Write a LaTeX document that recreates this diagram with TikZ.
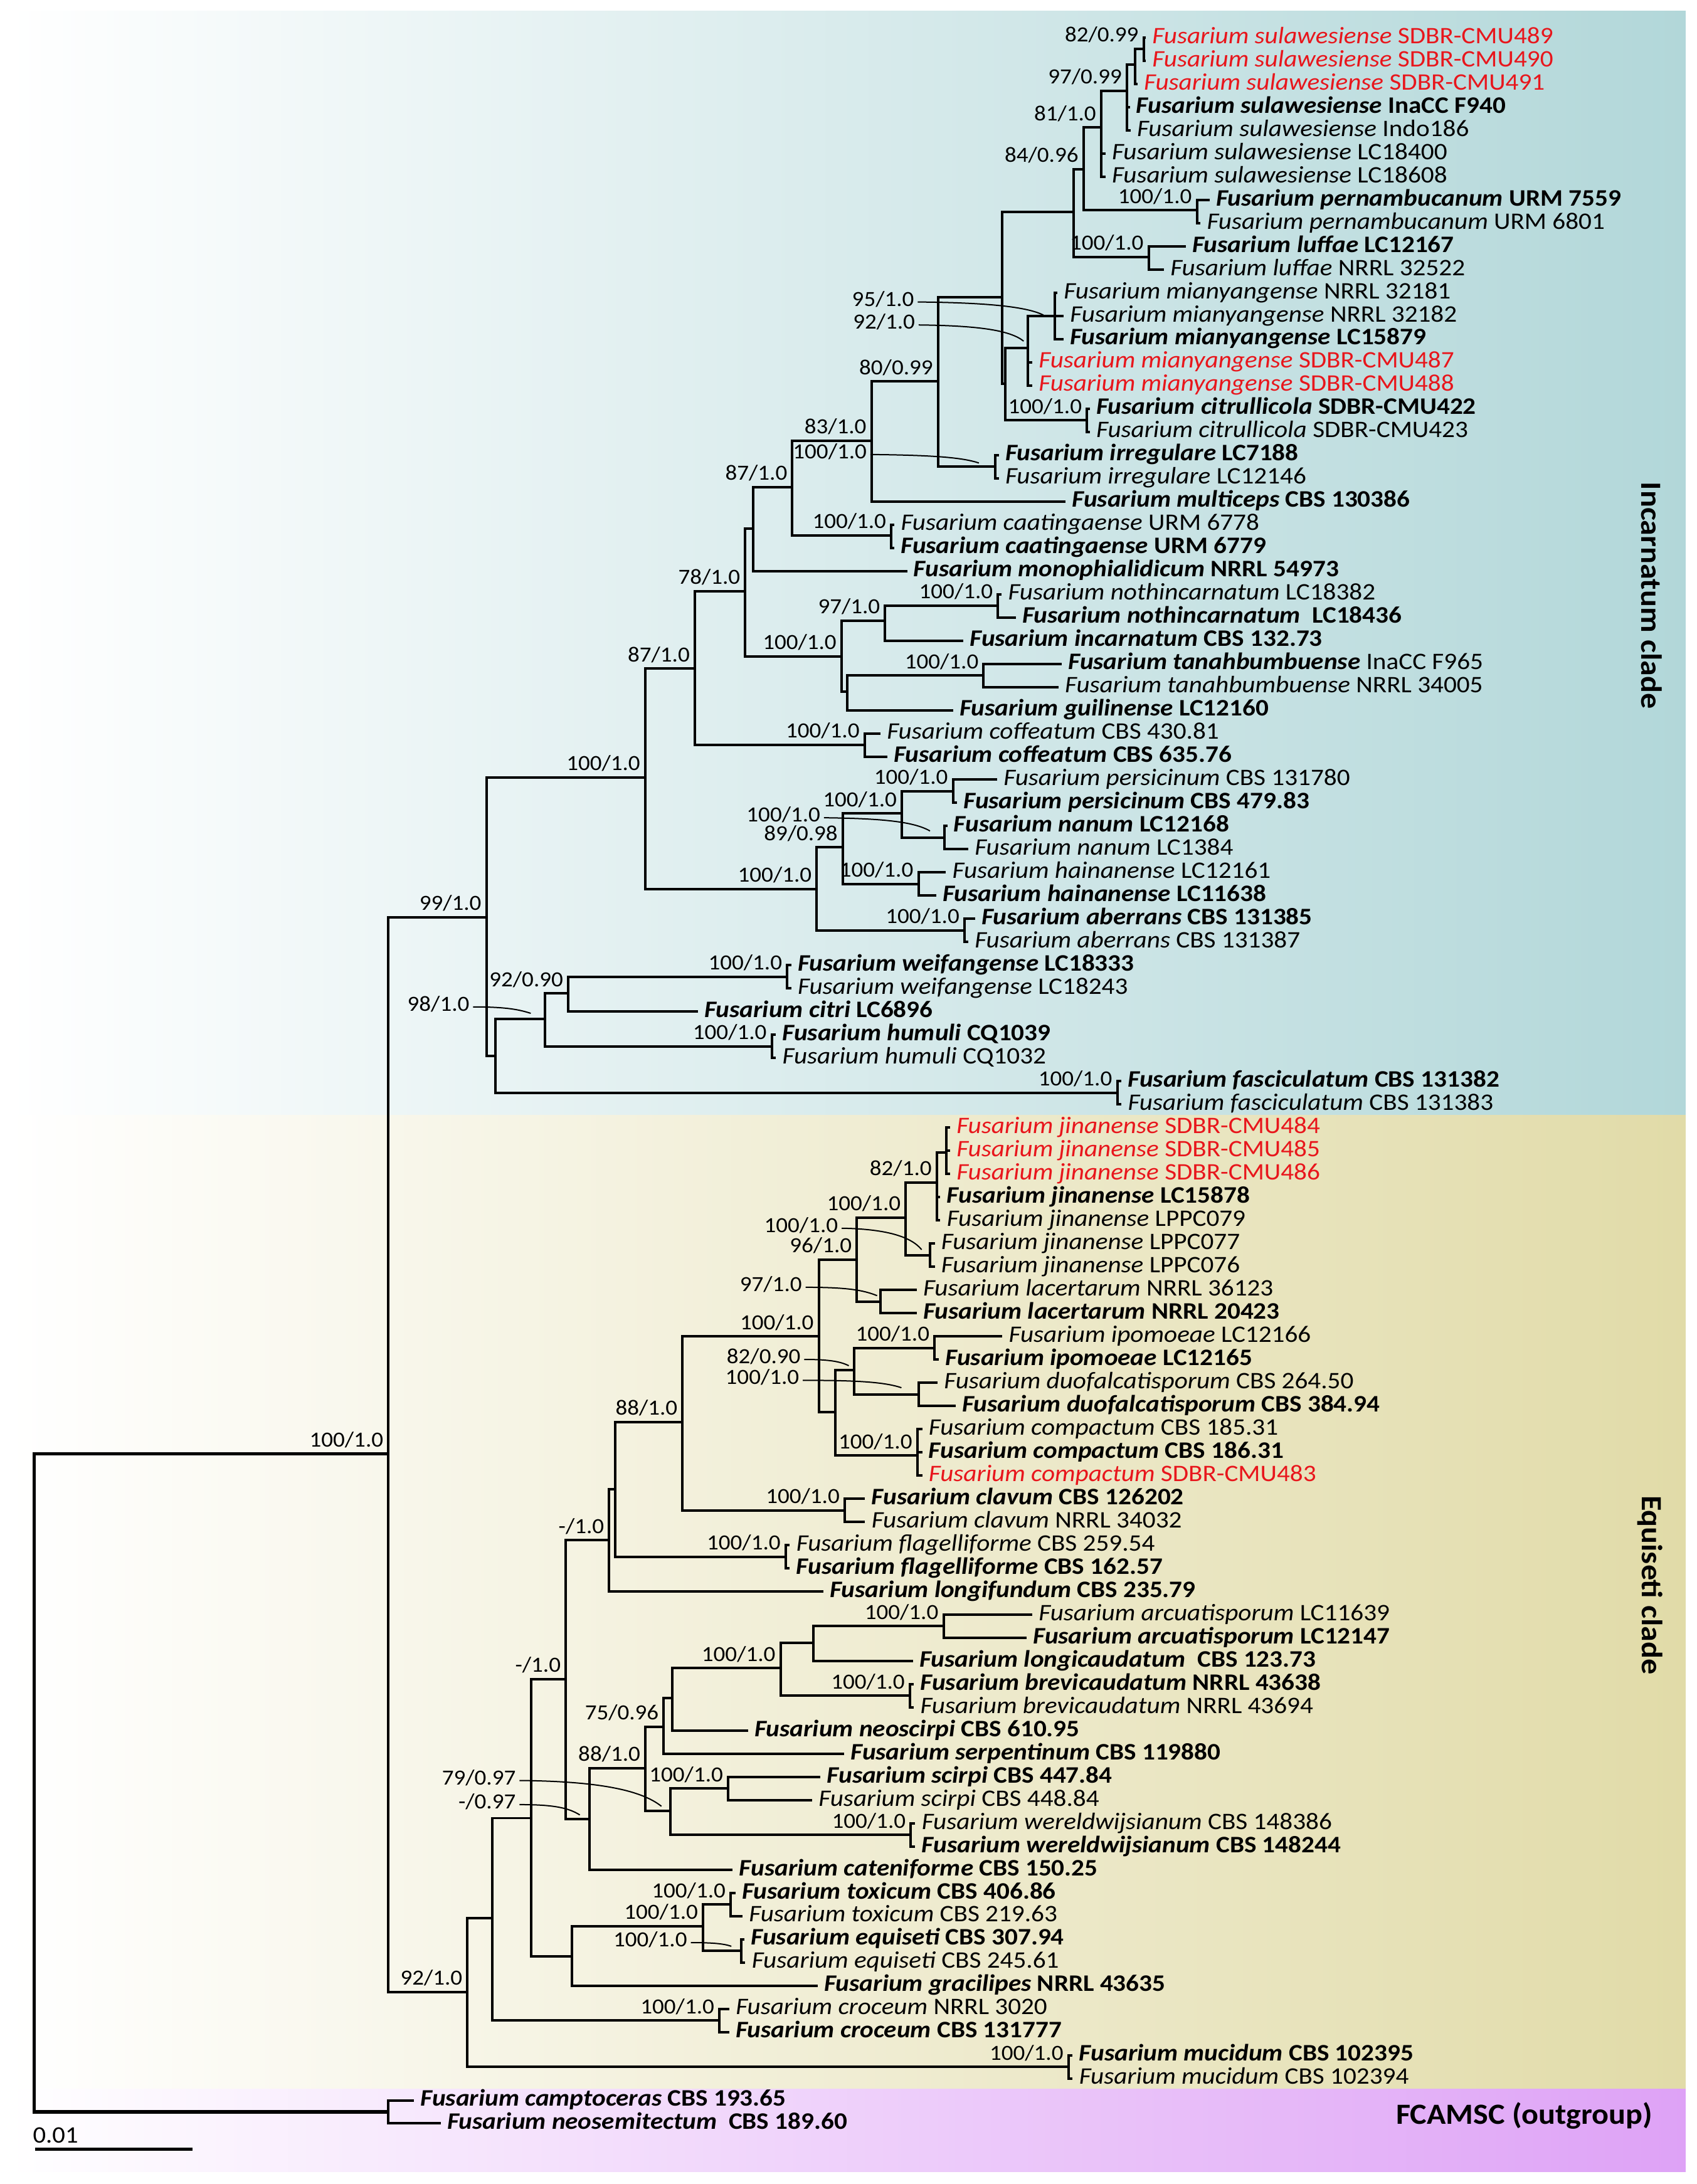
\documentclass[tikz,border=0pt]{standalone}
\usepackage{fontspec}
\setmainfont{Carlito}
\usepackage{graphicx}
\definecolor{fred}{RGB}{232,22,28}
\definecolor{incR}{RGB}{178,215,217}
\definecolor{equR}{RGB}{225,219,168}
\definecolor{outR}{RGB}{222,162,246}
\newcommand\xs[1]{\scalebox{1.075}[1]{#1}}
\newcommand\xn[1]{\scalebox{1.09}[1]{#1}}
\newcommand\Bn[2]{\xn{\bfseries\itshape Fusarium #1 \upshape #2}}
\newcommand\Bm[2]{\xn{\bfseries\itshape Fusarium #1 \mdseries\upshape #2}}
\newcommand\Nn[2]{\xn{\itshape Fusarium #1 \upshape #2}}
\newcommand\Rn[2]{\xn{\color{fred}\itshape Fusarium #1 \upshape #2}}
\tikzset{
  br/.style={line width=1.8pt,black},
  leaf/.style={anchor=west,inner xsep=4.5pt,inner ysep=0pt,text height=11.9pt,text depth=3.6pt,font=\fontsize{17}{18}\selectfont},
  sv/.style={anchor=base east,inner sep=0pt,xshift=-3.5pt,yshift=5pt,font=\fontsize{15.5}{16}\selectfont},
  svl/.style={anchor=base east,inner sep=0pt,font=\fontsize{15.5}{16}\selectfont},
  leader/.style={line width=0.9pt},
  clade/.style={font=\fontsize{21}{22}\selectfont\bfseries,inner sep=0pt}
}
\begin{document}
\begin{tikzpicture}[x=1pt,y=-1pt]
\useasboundingbox (0,0) rectangle (1218,1568);
\fill[white] (0,0) rectangle (1218,1568);
% background bands
\shade[left color=white,right color=incR] (6,8) rectangle (1210,800.5);
\shade[left color=white,right color=equR] (6,800.5) rectangle (1210,1500);
\shade[left color=white,right color=outR] (6,1500) rectangle (1210,1559);

% internal nodes
\coordinate (root) at (24.5,1280);
\coordinate (R1) at (278.8,1043.8);
\coordinate (OG) at (278.8,1516.25);
\coordinate (N22) at (349.2,658.4);
\coordinate (N18) at (463.2,558.1);
\coordinate (N17) at (498.8,480.1);
\coordinate (N13) at (535,424.3);
\coordinate (N12) at (540.7,379.6);
\coordinate (N11) at (568.8,349.6);
\coordinate (N10) at (625.6,316.3);
\coordinate (N9) at (673.4,273.8);
\coordinate (N7) at (719.6,213.2);
\coordinate (N6) at (770.8,152);
\coordinate (N5) at (777.8,121.5);
\coordinate (N4) at (790.5,91.5);
\coordinate (N3) at (809,65.3);
\coordinate (N2) at (815,46.5);
\coordinate (N1) at (821,35);
\coordinate (PERN) at (859.2,151);
\coordinate (LUF) at (824.6,184.5);
\coordinate (N8) at (721.6,275.3);
\coordinate (M1) at (737.7,250);
\coordinate (M2) at (757,227);
\coordinate (CIT) at (780.3,301.7);
\coordinate (IRR) at (714.4,335);
\coordinate (CAAT) at (639.8,384.5);
\coordinate (N14) at (604.1,471.2);
\coordinate (N15) at (635.4,445.6);
\coordinate (NOTH) at (716.4,434.9);
\coordinate (N16) at (608,496.6);
\coordinate (TAN) at (706.1,484.9);
\coordinate (COF) at (620.7,534.8);
\coordinate (N19) at (586.3,638.4);
\coordinate (N20) at (605,608.4);
\coordinate (N21) at (647.4,584);
\coordinate (PERS) at (684.1,568.1);
\coordinate (NAN) at (677.8,601.4);
\coordinate (HAIN) at (659.3,634.7);
\coordinate (ABER) at (692.4,668);
\coordinate (N23) at (355.5,758.3);
\coordinate (N24) at (391.1,731.6);
\coordinate (N25) at (407.9,713.3);
\coordinate (WEI) at (565.1,701.3);
\coordinate (HUM) at (554,751.3);
\coordinate (FASC) at (802,784.6);
\coordinate (L0) at (335.6,1430);
\coordinate (L1) at (353.2,1377);
\coordinate (J12) at (381.4,1305.3);
\coordinate (J11) at (406.2,1205.5);
\coordinate (J10) at (437.3,1105.8);
\coordinate (J9) at (441.5,1069);
\coordinate (J8) at (490,1021);
\coordinate (J5) at (587.8,959.5);
\coordinate (J4) at (615.1,904.3);
\coordinate (J3) at (650.2,874.3);
\coordinate (J2) at (672.5,849);
\coordinate (J1) at (679.1,827.5);
\coordinate (LPPC) at (667.8,901.1);
\coordinate (LAC) at (632,934.4);
\coordinate (J7) at (599.6,1014);
\coordinate (J6) at (613,983.5);
\coordinate (IPO) at (670.9,967.7);
\coordinate (DUO) at (659.5,1001);
\coordinate (COMP) at (658.5,1045);
\coordinate (CLAV) at (606.4,1084.3);
\coordinate (FLAG) at (564,1117.6);
\coordinate (K1) at (423.1,1306.1);
\coordinate (K2) at (463.3,1269.3);
\coordinate (K3) at (476.5,1239.7);
\coordinate (K5) at (482.6,1219.3);
\coordinate (K6) at (560.3,1197.7);
\coordinate (K7) at (583.8,1179.3);
\coordinate (ARC) at (677.3,1167.5);
\coordinate (BREV) at (653.2,1217.5);
\coordinate (K4) at (481.3,1300.1);
\coordinate (SCI) at (522.7,1284.1);
\coordinate (WER) at (653.8,1317.4);
\coordinate (L2) at (410.4,1404.5);
\coordinate (L3) at (504.7,1383);
\coordinate (TOX) at (524.5,1367.3);
\coordinate (EQU) at (532.3,1400.6);
\coordinate (CRO) at (516.4,1450.6);
\coordinate (MUC) at (767,1483.9);

% leaves
\node[leaf] (t1) at (822.5,27) {\Rn{sulawesiense}{SDBR-CMU489}};
\node[leaf] (t2) at (822.5,43.65) {\Rn{sulawesiense}{SDBR-CMU490}};
\node[leaf] (t3) at (816.5,60.3) {\Rn{sulawesiense}{SDBR-CMU491}};
\node[leaf] (t4) at (811,76.95) {\Bn{sulawesiense}{InaCC F940}};
\node[leaf] (t5) at (811.5,93.6) {\Nn{sulawesiense}{Indo186}};
\node[leaf] (t6) at (793.5,110.25) {\Nn{sulawesiense}{LC18400}};
\node[leaf] (t7) at (793.5,126.9) {\Nn{sulawesiense}{LC18608}};
\node[leaf] (t8) at (868.2,143.55) {\Bn{pernambucanum}{URM 7559}};
\node[leaf] (t9) at (861.7,160.2) {\Nn{pernambucanum}{URM 6801}};
\node[leaf] (t10) at (851.2,176.85) {\Bn{luffae}{LC12167}};
\node[leaf] (t11) at (835.5,193.5) {\Nn{luffae}{NRRL 32522}};
\node[leaf] (t12) at (759,210.15) {\Nn{mianyangense}{NRRL 32181}};
\node[leaf] (t13) at (763.5,226.8) {\Nn{mianyangense}{NRRL 32182}};
\node[leaf] (t14) at (763.5,243.45) {\Bn{mianyangense}{LC15879}};
\node[leaf] (t15) at (741,260.1) {\Rn{mianyangense}{SDBR-CMU487}};
\node[leaf] (t16) at (741,276.75) {\Rn{mianyangense}{SDBR-CMU488}};
\node[leaf] (t17) at (782.3,293.4) {\Bn{citrullicola}{SDBR-CMU422}};
\node[leaf] (t18) at (782.3,310.05) {\Nn{citrullicola}{SDBR-CMU423}};
\node[leaf] (t19) at (717,326.7) {\Bn{irregulare}{LC7188}};
\node[leaf] (t20) at (717,343.35) {\Nn{irregulare}{LC12146}};
\node[leaf] (t21) at (765,360) {\Bn{multiceps}{CBS 130386}};
\node[leaf] (t22) at (642,376.65) {\Nn{caatingaense}{URM 6778}};
\node[leaf] (t23) at (642,393.3) {\Bn{caatingaense}{URM 6779}};
\node[leaf] (t24) at (651.2,409.95) {\Bn{monophialidicum}{NRRL 54973}};
\node[leaf] (t25) at (719,426.6) {\Nn{nothincarnatum}{LC18382}};
\node[leaf] (t26) at (729.3,443.25) {\Bn{nothincarnatum}{\ LC18436}};
\node[leaf] (t27) at (691.5,459.9) {\Bn{incarnatum}{CBS 132.73}};
\node[leaf] (t28) at (762.2,476.55) {\Bm{tanahbumbuense}{InaCC F965}};
\node[leaf] (t29) at (759.8,493.2) {\Nn{tanahbumbuense}{NRRL 34005}};
\node[leaf] (t30) at (684.2,509.85) {\Bn{guilinense}{LC12160}};
\node[leaf] (t31) at (632,526.5) {\Nn{coffeatum}{CBS 430.81}};
\node[leaf] (t32) at (637,543.15) {\Bn{coffeatum}{CBS 635.76}};
\node[leaf] (t33) at (715.8,559.8) {\Nn{persicinum}{CBS 131780}};
\node[leaf] (t34) at (687,576.45) {\Bn{persicinum}{CBS 479.83}};
\node[leaf] (t35) at (680,593.1) {\Bn{nanum}{LC12168}};
\node[leaf] (t36) at (695,609.75) {\Nn{nanum}{LC1384}};
\node[leaf] (t37) at (679,626.4) {\Nn{hainanense}{LC12161}};
\node[leaf] (t38) at (672,643.05) {\Bn{hainanense}{LC11638}};
\node[leaf] (t39) at (700,659.7) {\Bn{aberrans}{CBS 131385}};
\node[leaf] (t40) at (695,676.35) {\Nn{aberrans}{CBS 131387}};
\node[leaf] (t41) at (568,693) {\Bn{weifangense}{LC18333}};
\node[leaf] (t42) at (568,709.65) {\Nn{weifangense}{LC18243}};
\node[leaf] (t43) at (501,726.3) {\Bn{citri}{LC6896}};
\node[leaf] (t44) at (557,742.95) {\Bn{humuli}{CQ1039}};
\node[leaf] (t45) at (557,759.6) {\Nn{humuli}{CQ1032}};
\node[leaf] (t46) at (805,776.25) {\Bn{fasciculatum}{CBS 131382}};
\node[leaf] (t47) at (805,792.9) {\Nn{fasciculatum}{CBS 131383}};
\node[leaf] (t48) at (682,809.55) {\Rn{jinanense}{SDBR-CMU484}};
\node[leaf] (t49) at (682,826.2) {\Rn{jinanense}{SDBR-CMU485}};
\node[leaf] (t50) at (682,842.85) {\Rn{jinanense}{SDBR-CMU486}};
\node[leaf] (t51) at (675,859.5) {\Bn{jinanense}{LC15878}};
\node[leaf] (t52) at (675,876.15) {\Nn{jinanense}{LPPC079}};
\node[leaf] (t53) at (671,892.8) {\Nn{jinanense}{LPPC077}};
\node[leaf] (t54) at (671,909.45) {\Nn{jinanense}{LPPC076}};
\node[leaf] (t55) at (658,926.1) {\Nn{lacertarum}{NRRL 36123}};
\node[leaf] (t56) at (658,942.75) {\Bn{lacertarum}{NRRL 20423}};
\node[leaf] (t57) at (719.5,959.4) {\Nn{ipomoeae}{LC12166}};
\node[leaf] (t58) at (674,976.05) {\Bn{ipomoeae}{LC12165}};
\node[leaf] (t59) at (673,992.7) {\Nn{duofalcatisporum}{CBS 264.50}};
\node[leaf] (t60) at (686,1009.35) {\Bn{duofalcatisporum}{CBS 384.94}};
\node[leaf] (t61) at (662,1026) {\Nn{compactum}{CBS 185.31}};
\node[leaf] (t62) at (662,1042.65) {\Bn{compactum}{CBS 186.31}};
\node[leaf] (t63) at (662,1059.3) {\Rn{compactum}{SDBR-CMU483}};
\node[leaf] (t64) at (621,1075.95) {\Bn{clavum}{CBS 126202}};
\node[leaf] (t65) at (621,1092.6) {\Nn{clavum}{NRRL 34032}};
\node[leaf] (t66) at (567,1109.25) {\Nn{flagelliforme}{CBS 259.54}};
\node[leaf] (t67) at (567,1125.9) {\Bn{flagelliforme}{CBS 162.57}};
\node[leaf] (t68) at (591,1142.55) {\Bn{longifundum}{CBS 235.79}};
\node[leaf] (t69) at (741,1159.2) {\Nn{arcuatisporum}{LC11639}};
\node[leaf] (t70) at (737,1175.85) {\Bn{arcuatisporum}{LC12147}};
\node[leaf] (t71) at (655.3,1192.5) {\Bn{longicaudatum}{\ CBS 123.73}};
\node[leaf] (t72) at (656,1209.15) {\Bn{brevicaudatum}{NRRL 43638}};
\node[leaf] (t73) at (656,1225.8) {\Nn{brevicaudatum}{NRRL 43694}};
\node[leaf] (t74) at (537,1242.45) {\Bn{neoscirpi}{CBS 610.95}};
\node[leaf] (t75) at (606,1259.1) {\Bn{serpentinum}{CBS 119880}};
\node[leaf] (t76) at (589,1275.75) {\Bn{scirpi}{CBS 447.84}};
\node[leaf] (t77) at (583,1292.4) {\Nn{scirpi}{CBS 448.84}};
\node[leaf] (t78) at (657,1309.05) {\Nn{wereldwijsianum}{CBS 148386}};
\node[leaf] (t79) at (657,1325.7) {\Bn{wereldwijsianum}{CBS 148244}};
\node[leaf] (t80) at (526,1342.35) {\Bn{cateniforme}{CBS 150.25}};
\node[leaf] (t81) at (528,1359) {\Bn{toxicum}{CBS 406.86}};
\node[leaf] (t82) at (533,1375.65) {\Nn{toxicum}{CBS 219.63}};
\node[leaf] (t83) at (534.5,1392.3) {\Bn{equiseti}{CBS 307.94}};
\node[leaf] (t84) at (535,1408.95) {\Nn{equiseti}{CBS 245.61}};
\node[leaf] (t85) at (587,1425.6) {\Bn{gracilipes}{NRRL 43635}};
\node[leaf] (t86) at (523.5,1442.25) {\Nn{croceum}{NRRL 3020}};
\node[leaf] (t87) at (523.5,1458.9) {\Bn{croceum}{CBS 131777}};
\node[leaf] (t88) at (770,1475.55) {\Bn{mucidum}{CBS 102395}};
\node[leaf] (t89) at (770,1492.2) {\Nn{mucidum}{CBS 102394}};
\node[leaf] (t90) at (297.2,1508) {\Bn{camptoceras}{CBS 193.65}};
\node[leaf] (t91) at (316.4,1524.5) {\Bn{neosemitectum}{\ CBS 189.60}};

% branches
\draw[line width=2.4pt] (root) |- (R1.west);
\draw[line width=2.4pt] (root) |- (OG.west);
\foreach \p/\c in {R1/N22,R1/L0,N22/N18,N22/N23,N18/N17,N18/N19,N17/N13,N17/COF,
  N13/N12,N13/N14,N12/N11,N12/t24,N11/N10,N11/CAAT,N10/N9,N10/t21,N9/N7,N9/IRR,
  N7/N6,N7/N8,N6/N5,N6/LUF,N5/N4,N5/PERN,N4/N3,N4/t6,N4/t7,N3/N2,N3/t4,N3/t5,
  N2/N1,N2/t3,N1/t1,N1/t2,PERN/t8,PERN/t9,LUF/t10,LUF/t11,N8/M1,N8/CIT,
  M1/M2,M1/t15,M1/t16,M2/t12,M2/t13,M2/t14,CIT/t17,CIT/t18,IRR/t19,IRR/t20,
  CAAT/t22,CAAT/t23,N14/N15,N14/N16,N15/NOTH,N15/t27,NOTH/t25,NOTH/t26,
  N16/TAN,N16/t30,TAN/t28,TAN/t29,COF/t31,COF/t32,N19/N20,N19/ABER,N20/N21,N20/HAIN,
  N21/PERS,N21/NAN,PERS/t33,PERS/t34,NAN/t35,NAN/t36,HAIN/t37,HAIN/t38,ABER/t39,ABER/t40,
  N23/N24,N23/FASC,N24/N25,N24/HUM,N25/WEI,N25/t43,WEI/t41,WEI/t42,HUM/t44,HUM/t45,
  FASC/t46,FASC/t47,L0/L1,L0/MUC,L1/J12,L1/CRO,J12/J11,J12/L2,J11/J10,J11/K1,
  J10/J9,J10/t68,J9/J8,J9/FLAG,J8/J5,J8/CLAV,J5/J4,J5/J7,J4/J3,J4/LAC,J3/J2,J3/LPPC,
  J2/J1,J2/t51,J2/t52,J1/t48,J1/t49,J1/t50,LPPC/t53,LPPC/t54,LAC/t55,LAC/t56,
  J7/J6,J7/COMP,J6/IPO,J6/DUO,IPO/t57,IPO/t58,DUO/t59,DUO/t60,COMP/t61,COMP/t62,COMP/t63,
  CLAV/t64,CLAV/t65,FLAG/t66,FLAG/t67,K1/K2,K1/t80,K2/K3,K2/K4,K3/K5,K3/t75,K5/K6,K5/t74,
  K6/K7,K6/BREV,K7/ARC,K7/t71,ARC/t69,ARC/t70,BREV/t72,BREV/t73,K4/SCI,K4/WER,
  SCI/t76,SCI/t77,WER/t78,WER/t79,L2/L3,L2/t85,L3/TOX,L3/EQU,TOX/t81,TOX/t82,
  EQU/t83,EQU/t84,CRO/t86,CRO/t87,MUC/t88,MUC/t89,OG/t90,OG/t91}
  \draw[br] (\p) |- (\c.west);

% support values
\node[sv] (sN1) at (N1) {\xs{82/0.99}};
\node[sv] (sN3) at (N3) {\xs{97/0.99}};
\node[sv] (sN4) at (N4) {\xs{81/1.0}};
\node[sv] (sN5) at (N5) {\xs{84/0.96}};
\node[sv] (sPERN) at (PERN) {\xs{100/1.0}};
\node[sv] (sLUF) at (LUF) {\xs{100/1.0}};
\node[sv] (sCIT) at (CIT) {\xs{100/1.0}};
\node[sv] (sN9) at (N9) {\xs{80/0.99}};
\node[sv] (sN10) at (N10) {\xs{83/1.0}};
\node[sv] (sN11) at (N11) {\xs{87/1.0}};
\node[sv] (sCAAT) at (CAAT) {\xs{100/1.0}};
\node[sv] (sN13) at (N13) {\xs{78/1.0}};
\node[sv] (sN14) at (N14) {\xs{100/1.0}};
\node[sv] (sN15) at (N15) {\xs{97/1.0}};
\node[sv] (sNOTH) at (NOTH) {\xs{100/1.0}};
\node[sv] (sTAN) at (TAN) {\xs{100/1.0}};
\node[sv] (sN17) at (N17) {\xs{87/1.0}};
\node[sv] (sCOF) at (COF) {\xs{100/1.0}};
\node[sv] (sN18) at (N18) {\xs{100/1.0}};
\node[sv] (sN19) at (N19) {\xs{100/1.0}};
\node[sv] (sN20) at (N20) {\xs{89/0.98}};
\node[sv] (sN21) at (N21) {\xs{100/1.0}};
\node[sv] (sPERS) at (PERS) {\xs{100/1.0}};
\node[sv] (sHAIN) at (HAIN) {\xs{100/1.0}};
\node[sv] (sABER) at (ABER) {\xs{100/1.0}};
\node[sv] (sN22) at (N22) {\xs{99/1.0}};
\node[sv] (sN25) at (N25) {\xs{92/0.90}};
\node[sv] (sWEI) at (WEI) {\xs{100/1.0}};
\node[sv] (sHUM) at (HUM) {\xs{100/1.0}};
\node[sv] (sFASC) at (FASC) {\xs{100/1.0}};
\node[sv] (sR1) at (R1) {\xs{100/1.0}};
\node[sv] (sJ2) at (J2) {\xs{82/1.0}};
\node[sv] (sJ3) at (J3) {\xs{100/1.0}};
\node[sv] (sJ4) at (J4) {\xs{96/1.0}};
\node[sv] (sJ5) at (J5) {\xs{100/1.0}};
\node[sv] (sIPO) at (IPO) {\xs{100/1.0}};
\node[sv] (sCOMP) at (COMP) {\xs{100/1.0}};
\node[sv] (sJ8) at (J8) {\xs{88/1.0}};
\node[sv] (sCLAV) at (CLAV) {\xs{100/1.0}};
\node[sv] (sFLAG) at (FLAG) {\xs{100/1.0}};
\node[sv] (sJ10) at (J10) {\xs{-/1.0}};
\node[sv] (sJ11) at (J11) {\xs{-/1.0}};
\node[sv] (sK2) at (K2) {\xs{88/1.0}};
\node[sv] (sK3) at (K3) {\xs{75/0.96}};
\node[sv] (sK6) at (K6) {\xs{100/1.0}};
\node[sv] (sARC) at (ARC) {\xs{100/1.0}};
\node[sv] (sBREV) at (BREV) {\xs{100/1.0}};
\node[sv] (sSCI) at (SCI) {\xs{100/1.0}};
\node[sv] (sWER) at (WER) {\xs{100/1.0}};
\node[sv] (sL3) at (L3) {\xs{100/1.0}};
\node[sv] (sTOX) at (TOX) {\xs{100/1.0}};
\node[sv] (sCRO) at (CRO) {\xs{100/1.0}};
\node[sv] (sMUC) at (MUC) {\xs{100/1.0}};
\node[sv] (sL0) at (L0) {\xs{92/1.0}};

% support values with leader lines
\coordinate (ltM2) at (749,226.2);
\coordinate (ltM1) at (734.8,244.9);
\coordinate (ltIRR) at (702.7,332.4);
\coordinate (ltNAN) at (667.6,596.6);
\coordinate (ltN24) at (381,727.5);
\coordinate (ltLPPC) at (661.6,897.2);
\coordinate (ltLAC) at (629.6,930.2);
\coordinate (ltJ6) at (609.3,980.5);
\coordinate (ltDUO) at (647.1,996.3);
\coordinate (ltK4) at (474.8,1296.8);
\coordinate (ltK1) at (416.2,1303);
\coordinate (ltEQU) at (525,1397.3);
\node[svl] (lM2) at (656.3,219.8) {\xs{95/1.0}};
\node[svl] (lM1) at (657,236.3) {\xs{92/1.0}};
\node[svl] (lIRR) at (622.3,329.3) {\xs{100/1.0}};
\node[svl] (lNAN) at (589,590.1) {\xs{100/1.0}};
\node[svl] (lN24) at (337.1,725.9) {\xs{98/1.0}};
\node[svl] (lLPPC) at (601.7,884.8) {\xs{100/1.0}};
\node[svl] (lLAC) at (575.8,927.2) {\xs{97/1.0}};
\node[svl] (lJ6) at (574.8,979) {\xs{82/0.90}};
\node[svl] (lDUO) at (573.8,994) {\xs{100/1.0}};
\node[svl] (lK4) at (370.4,1281.3) {\xs{79/0.97}};
\node[svl] (lK1) at (370.4,1298.6) {\xs{-/0.97}};
\node[svl] (lEQU) at (493.4,1397.7) {\xs{100/1.0}};
\draw[leader] ([shift={(2.5,-3)}]lM2.base east) .. controls +(50,0.5) and +(-12,-6) .. (ltM2);
\draw[leader] ([shift={(2.5,-3)}]lM1.base east) .. controls +(42,0.5) and +(-10,-8) .. (ltM1);
\draw[leader] ([shift={(2.5,-3)}]lIRR.base east) .. controls +(45,0.5) and +(-12,-4) .. (ltIRR);
\draw[leader] ([shift={(2.5,-3)}]lNAN.base east) .. controls +(40,0.5) and +(-12,-7) .. (ltNAN);
\draw[leader] ([shift={(2.5,-3)}]lN24.base east) .. controls +(25,0) and +(-8,-2.5) .. (ltN24);
\draw[leader] ([shift={(2.5,-3)}]lLPPC.base east) .. controls +(30,0.5) and +(-8,-10) .. (ltLPPC);
\draw[leader] ([shift={(2.5,-3)}]lLAC.base east) .. controls +(30,0) and +(-10,-4) .. (ltLAC);
\draw[leader] ([shift={(2.5,-3)}]lJ6.base east) .. controls +(18,0) and +(-6,-3) .. (ltJ6);
\draw[leader] ([shift={(2.5,-3)}]lDUO.base east) .. controls +(40,0) and +(-12,-4) .. (ltDUO);
\draw[leader] ([shift={(2.5,-3)}]lK4.base east) .. controls +(55,0.5) and +(-15,-12) .. (ltK4);
\draw[leader] ([shift={(2.5,-3)}]lK1.base east) .. controls +(25,0) and +(-8,-5) .. (ltK1);
\draw[leader] ([shift={(2.5,-3)}]lEQU.base east) .. controls +(15,0) and +(-6,-2) .. (ltEQU);

% clade labels
\node[clade,rotate=-90,anchor=base] (cInc) at (1178.5,427.5) {\xs{Incarnatum clade}};
\node[clade,rotate=-90,anchor=base] (cEqu) at (1179,1138) {\xs{Equiseti clade}};
\node[clade,anchor=base west] (cOut) at (1002,1525) {\xs{FCAMSC (outgroup)}};

% scale bar
\coordinate (sb1) at (25,1543);
\coordinate (sb2) at (138.3,1543);
\draw[line width=2.3pt] (sb1) -- (sb2);
\node[anchor=base west,inner sep=0pt,font=\fontsize{17}{18}\selectfont] (sbl) at (23.5,1538.6) {\xs{0.01}};
\end{tikzpicture}
\end{document}
